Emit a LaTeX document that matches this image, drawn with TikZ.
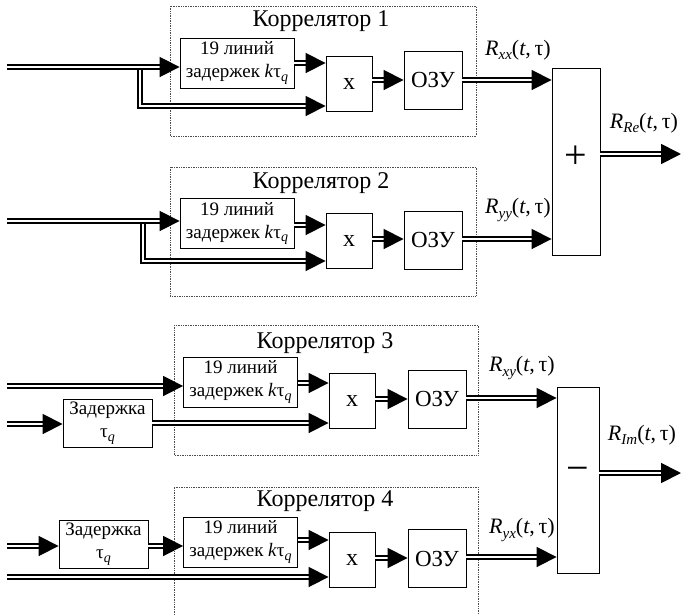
\documentclass[tikz,border=0pt]{standalone}
\usepackage{fontspec}
\setmainfont{Liberation Serif}
\usetikzlibrary{arrows.meta}
\newcommand\Rsig[1]{\textit{R}\raisebox{-0.45ex}{\fontsize{15}{15}\selectfont\itshape #1}(\textit{t},\,τ)}
\newcommand\tauq{τ\raisebox{-0.45ex}{\fontsize{14}{14}\selectfont\itshape q}}
\begin{document}
\begin{tikzpicture}[x=1pt,y=-1pt,
  box/.style={draw, line width=0.9pt, inner sep=0pt, align=center, font=\fontsize{19}{23}\selectfont},
  dbox/.style={box, minimum width=114pt, minimum height=50pt},
  zbox/.style={box, minimum width=89pt, minimum height=48pt},
  mbox/.style={box, minimum width=46pt, minimum height=55pt, font=\fontsize{24}{24}\selectfont},
  obox/.style={box, minimum width=58pt, minimum height=58pt, font=\fontsize{23}{23}\selectfont},
  sbox/.style={draw, line width=0.9pt, inner sep=0pt},
  dbl/.style={double, line width=1.8pt, double distance=2.2pt, -{Triangle[length=20pt,width=20pt]}},
  frm/.style={draw=black!70, densely dotted, line width=0.7pt},
  ttl/.style={font=\fontsize{24}{24}\selectfont},
  lbl/.style={font=\fontsize{22}{22}\selectfont}]
\useasboundingbox (0,0) rectangle (681,614);

% frames
\draw[frm] (170,6) rectangle (476,136);
\draw[frm] (170,167) rectangle (476,296);
\draw[frm] (174,325) rectangle (478,455);
\draw[frm] (174,630) -- (174,487) -- (478,487) -- (478,630);
\node[ttl] (t1) at (321,21) {Коррелятор 1};
\node[ttl] (t2) at (321,183) {Коррелятор 2};
\node[ttl] (t3) at (325,343) {Коррелятор 3};
\node[ttl] (t4) at (325,501) {Коррелятор 4};

% correlator 1
\node[dbox] (d1) at (237,63) {19 линий\\задержек \textit{k}\tauq};
\node[mbox] (m1) at (349,83.5) {x};
\node[obox] (r1) at (433,80) {ОЗУ};
% correlator 2
\node[dbox] (d2) at (237,223.5) {19 линий\\задержек \textit{k}\tauq};
\node[mbox] (m2) at (349,241) {x};
\node[obox] (r2) at (433,240) {ОЗУ};
% correlator 3
\node[dbox] (d3) at (240.5,382) {19 линий\\задержек \textit{k}\tauq};
\node[zbox] (z3) at (107.5,423) {Задержка\\\tauq};
\node[mbox] (m3) at (352,400.5) {x};
\node[obox] (r3) at (437,399) {ОЗУ};
% correlator 4
\node[dbox] (d4) at (240.5,542) {19 линий\\задержек \textit{k}\tauq};
\node[zbox] (z4) at (103.5,544.5) {Задержка\\\tauq};
\node[mbox] (m4) at (352,560) {x};
\node[obox] (r4) at (437,558.5) {ОЗУ};
% summators
\node[sbox, minimum width=48pt, minimum height=187pt] (plus) at (576,161.5) {};
\node[font=\fontsize{40}{40}\selectfont] (plussign) at (576,157) {+};
\node[sbox, minimum width=42pt, minimum height=186pt] (minus) at (578,480) {};
\node[font=\fontsize{40}{40}\selectfont] (minussign) at (578,474) {−};

% coordinates
\coordinate (in1) at (7,67);
\coordinate (br1) at (140,67);
\coordinate (br1b) at (140,106);
\coordinate (in2) at (7,221);
\coordinate (br2) at (143,221);
\coordinate (br2b) at (143,261);
\coordinate (in3) at (7,386);
\coordinate (in3b) at (7,424);
\coordinate (in4) at (7,546);
\coordinate (in4b) at (7,577);
\coordinate (outRe) at (681,154);
\coordinate (outIm) at (681,473);

% correlator 1 connections
\draw[dbl] (br1) -- (br1b) -- (m1.west |- br1b);
\draw[dbl] (in1) -- (d1.west |- in1);
\draw[dbl] (d1.east |- 0,63) -- (m1.west |- 0,63);
\draw[dbl] (m1.east |- r1.west) -- (r1.west);
\draw[dbl] (r1.east) -- (plus.west |- r1.east);
% correlator 2
\draw[dbl] (br2) -- (br2b) -- (m2.west |- br2b);
\draw[dbl] (in2) -- (d2.west |- in2);
\draw[dbl] (d2.east |- 0,225) -- (m2.west |- 0,225);
\draw[dbl] (m2.east |- 0,239) -- (r2.west |- 0,239);
\draw[dbl] (r2.east |- 0,239) -- (plus.west |- 0,239);
% correlator 3
\draw[dbl] (in3) -- (d3.west |- in3);
\draw[dbl] (in3b) -- (z3.west |- in3b);
\draw[dbl] (z3.east |- 0,423) -- (m3.west |- 0,423);
\draw[dbl] (d3.east |- 0,383) -- (m3.west |- 0,383);
\draw[dbl] (m3.east |- 0,399) -- (r3.west |- 0,399);
\draw[dbl] (r3.east |- 0,398) -- (minus.west |- 0,398);
% correlator 4
\draw[dbl] (in4) -- (z4.west |- in4);
\draw[dbl] (z4.east |- in4) -- (d4.west |- in4);
\draw[dbl] (in4b) -- (m4.west |- in4b);
\draw[dbl] (d4.east |- 0,540) -- (m4.west |- 0,540);
\draw[dbl] (m4.east |- 0,558) -- (r4.west |- 0,558);
\draw[dbl] (r4.east |- 0,557) -- (minus.west |- 0,557);
% outputs
\draw[dbl] (plus.east |- outRe) -- (outRe);
\draw[dbl] (minus.east |- outIm) -- (outIm);

% labels
\node[lbl] (lxx) at (518,50) {\Rsig{xx}};
\node[lbl] (lyy) at (518,210) {\Rsig{yy}};
\node[lbl] (lre) at (644,123) {\Rsig{Re}};
\node[lbl] (lxy) at (522,368) {\Rsig{xy}};
\node[lbl] (lyx) at (522,530) {\Rsig{yx}};
\node[lbl] (lim) at (642,435) {\Rsig{Im}};
\end{tikzpicture}
\end{document}
